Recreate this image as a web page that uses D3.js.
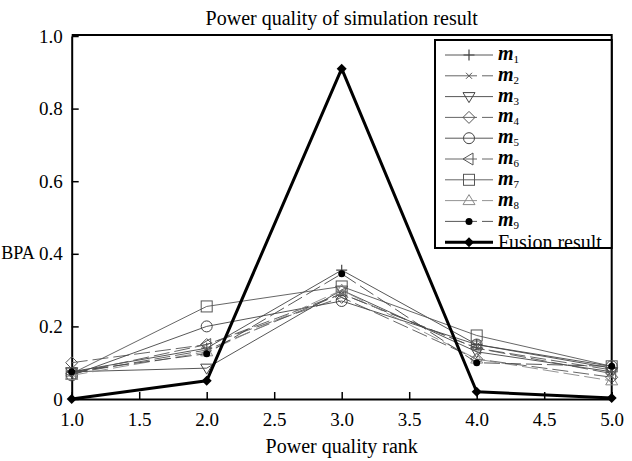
<!DOCTYPE html>
<html>
<head>
<meta charset="utf-8">
<script src="https://cdn.jsdelivr.net/npm/d3@7"></script>
<style>
body { margin: 0; background: #fff; }
text { font-family: "Liberation Serif", "Times New Roman", serif; }
</style>
</head>
<body>
<svg width="632" height="461"></svg>
<script>
// chart data
var ranks = [1, 2, 3, 4, 5];
var xTicks = [1, 1.5, 2, 2.5, 3, 3.5, 4, 4.5, 5];
var yTicks = [0, 0.2, 0.4, 0.6, 0.8, 1.0];
var seriesNames = ["m1", "m2", "m3", "m4", "m5", "m6", "m7", "m8", "m9"];
var m1 = [0.075, 0.14, 0.355, 0.15, 0.085];
var m2 = [0.07, 0.135, 0.29, 0.14, 0.08];
var m3 = [0.075, 0.085, 0.30, 0.13, 0.075];
var m4 = [0.10, 0.15, 0.28, 0.11, 0.06];
var m5 = [0.065, 0.20, 0.27, 0.15, 0.09];
var m6 = [0.07, 0.15, 0.29, 0.14, 0.07];
var m7 = [0.07, 0.255, 0.31, 0.175, 0.09];
var m8 = [0.065, 0.13, 0.30, 0.11, 0.05];
var m9 = [0.075, 0.125, 0.345, 0.10, 0.09];
var fusion = [0.0, 0.05, 0.91, 0.02, 0.003];

var seriesValues = [m1, m2, m3, m4, m5, m6, m7, m8, m9];
var markers = ["plus", "cross", "tridown", "diamond", "circle", "trileft", "square", "triup", "dot"];
var dashed = [false, true, false, true, false, true, false, true, true];
var colors = ["#444", "#555", "#444", "#555", "#444", "#555", "#555", "#888", "#444"];

var plotLeft = 71.7, plotRight = 611.7, plotTop = 36, plotBottom = 399;
var svg = d3.select("svg");

var x = d3.scaleLinear().domain([1, 5]).range([plotLeft, plotRight]);
var y = d3.scaleLinear().domain([0, 1]).range([plotBottom, plotTop]);

function drawMarker(g, type, cx, cy, color) {
    var s = 5.5;
    if (type == "plus") {
        g.append("path").attr("d", `M${cx - s},${cy}H${cx + s}M${cx},${cy - s}V${cy + s}`)
            .attr("stroke", color).attr("stroke-width", 1.2);
    } else if (type == "cross") {
        var c = 3;
        g.append("path").attr("d", `M${cx - c},${cy - c}L${cx + c},${cy + c}M${cx - c},${cy + c}L${cx + c},${cy - c}`)
            .attr("stroke", color).attr("stroke-width", 1);
    } else if (type == "circle") {
        g.append("circle").attr("cx", cx).attr("cy", cy).attr("r", s)
            .attr("fill", "none").attr("stroke", color);
    } else if (type == "dot") {
        g.append("circle").attr("cx", cx).attr("cy", cy).attr("r", 3.5).attr("fill", "#000");
    } else if (type == "square") {
        g.append("rect").attr("x", cx - s).attr("y", cy - s).attr("width", 2 * s).attr("height", 2 * s)
            .attr("fill", "none").attr("stroke", color);
    } else if (type == "diamond") {
        g.append("path").attr("d", `M${cx},${cy - 6}L${cx + 6},${cy}L${cx},${cy + 6}L${cx - 6},${cy}Z`)
            .attr("fill", "none").attr("stroke", color);
    } else if (type == "tridown") {
        g.append("path").attr("d", `M${cx - 6},${cy - 4}L${cx + 6},${cy - 4}L${cx},${cy + 6}Z`)
            .attr("fill", "none").attr("stroke", color);
    } else if (type == "triup") {
        g.append("path").attr("d", `M${cx - 6},${cy + 4}L${cx + 6},${cy + 4}L${cx},${cy - 6}Z`)
            .attr("fill", "none").attr("stroke", color);
    } else if (type == "trileft") {
        g.append("path").attr("d", `M${cx - 6},${cy}L${cx + 4},${cy - 6}L${cx + 4},${cy + 6}Z`)
            .attr("fill", "none").attr("stroke", color);
    } else if (type == "fusion") {
        g.append("path").attr("d", `M${cx},${cy - 5}L${cx + 5},${cy}L${cx},${cy + 5}L${cx - 5},${cy}Z`)
            .attr("fill", "#000");
    }
}

// axes
var xAxis = d3.axisBottom(x).tickValues(xTicks).tickFormat(d3.format(".1f"))
    .tickSizeInner(-7).tickSizeOuter(0).tickPadding(14);
var yAxis = d3.axisLeft(y).tickValues(yTicks).tickFormat(d => d == 0 ? "0" : d3.format(".1f")(d))
    .tickSizeInner(-7).tickSizeOuter(0).tickPadding(9);

var gx = svg.append("g").attr("transform", `translate(0,${plotBottom})`).call(xAxis);
var gy = svg.append("g").attr("transform", `translate(${plotLeft},0)`).call(yAxis);
[gx, gy].forEach(function (g) {
    g.select(".domain").attr("stroke", "#000").attr("stroke-width", 2);
    g.selectAll(".tick line").attr("stroke", "#000").attr("stroke-width", 1.5);
    g.selectAll(".tick text").attr("fill", "#000").style("font-size", "19px")
        .style("font-family", "'Liberation Serif', serif");
});

// frame top and right
svg.append("path").attr("d", `M${plotLeft},${plotTop - 1}H${plotRight}V${plotBottom}`)
    .attr("fill", "none").attr("stroke", "#000").attr("stroke-width", 2);

var line = d3.line().x((d, i) => x(ranks[i])).y(d => y(d));

seriesValues.forEach(function (vals, k) {
    var g = svg.append("g");
    g.append("path").datum(vals).attr("d", line)
        .attr("fill", "none").attr("stroke", colors[k]).attr("stroke-width", 0.9)
        .attr("stroke-dasharray", dashed[k] ? "16,5" : null);
    vals.forEach(function (v, i) {
        drawMarker(g, markers[k], x(ranks[i]), y(v), colors[k]);
    });
});

var gf = svg.append("g");
gf.append("path").datum(fusion).attr("d", line)
    .attr("fill", "none").attr("stroke", "#000").attr("stroke-width", 3).attr("stroke-linejoin", "round");
fusion.forEach(function (v, i) { drawMarker(gf, "fusion", x(ranks[i]), y(v), "#000"); });

// legend
var lg = svg.append("g");
lg.append("rect").attr("x", 435).attr("y", 40).attr("width", 176.7).attr("height", 208)
    .attr("fill", "#fff").attr("stroke", "#000").attr("stroke-width", 2);
seriesNames.forEach(function (name, k) {
    var ly = 55 + k * 20.8;
    lg.append("path").attr("d", `M445,${ly}H493`)
        .attr("stroke", colors[k]).attr("stroke-width", 0.9)
        .attr("stroke-dasharray", dashed[k] ? "32,5" : null);
    drawMarker(lg, markers[k], 469, ly, colors[k]);
    var t = lg.append("text").attr("x", 498).attr("y", ly + 5).style("font-size", "20px");
    t.append("tspan").style("font-style", "italic").style("font-weight", "bold").text(name.charAt(0));
    t.append("tspan").attr("dy", 3).style("font-size", "11px").text(name.slice(1));
});
var fy = 55 + 9 * 20.8;
lg.append("path").attr("d", `M445,${fy}H493`).attr("stroke", "#000").attr("stroke-width", 3);
drawMarker(lg, "fusion", 469, fy, "#000");
lg.append("text").attr("x", 498).attr("y", fy + 7).style("font-size", "20px").text("Fusion result");

// titles
svg.append("text").attr("x", (plotLeft + plotRight) / 2).attr("y", 25).attr("text-anchor", "middle")
    .style("font-size", "20px").text("Power quality of simulation result");
svg.append("text").attr("x", (plotLeft + plotRight) / 2).attr("y", 453).attr("text-anchor", "middle")
    .style("font-size", "20px").text("Power quality rank");
svg.append("text").attr("x", 18).attr("y", 259).attr("text-anchor", "middle")
    .style("font-size", "18px").text("BPA");
</script>
</body>
</html>
